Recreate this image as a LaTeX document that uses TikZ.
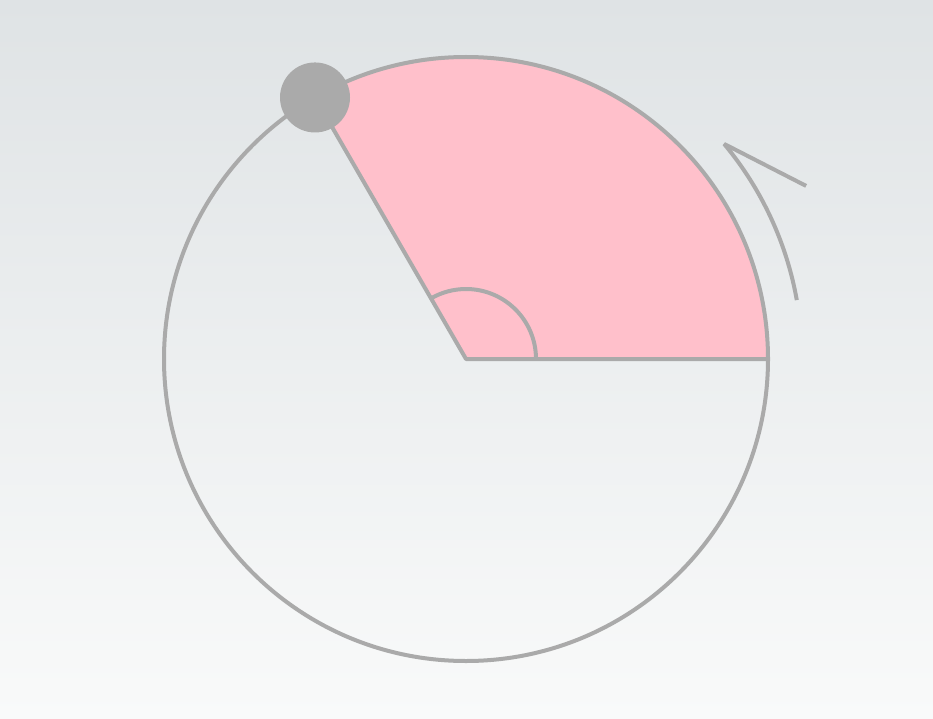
\documentclass[tikz,border=0pt]{standalone}
\usetikzlibrary{calc}
\begin{document}
\begin{tikzpicture}[x=1pt,y=1pt,
  ln/.style={draw=linegray,line width=4pt},
  ]
\definecolor{linegray}{HTML}{AAAAAA}
\definecolor{pinkfill}{HTML}{FFC0CB}
\definecolor{bgtop}{HTML}{DFE3E5}
\definecolor{bgbot}{HTML}{F9FAFA}
\shade[top color=bgtop,bottom color=bgbot] (0,0) rectangle (933,-719);
\useasboundingbox (0,0) rectangle (933,-719);
\coordinate (c) at (466,-359);
% sector
\fill[pinkfill] (c) -- ++(0:302) arc[start angle=0,end angle=120,radius=302] -- cycle;
% circle
\draw[ln] (c) circle[radius=302];
% radii
\draw[ln,line join=round] (c) ++(0:302) -- (c) -- ++(120:302) coordinate (p);
% angle mark
\draw[ln] (c) ++(0:70) arc[start angle=0,end angle=120,radius=70];
% rotation arrow
\draw[ln,line join=bevel] (c) ++(10.1:336) arc[start angle=10.1,end angle=39.8,radius=336] coordinate (tip) -- ++(82,-42);
% point
\node[circle,fill=linegray,minimum size=70pt,inner sep=0pt] (dot) at (p) {};
\end{tikzpicture}
\end{document}
